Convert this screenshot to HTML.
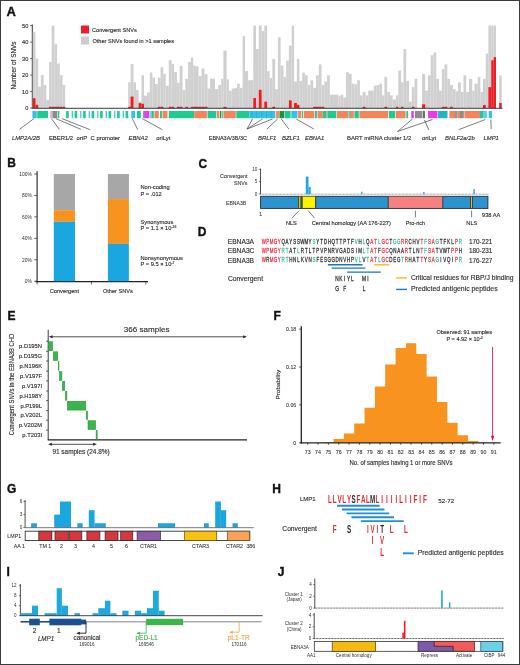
<!DOCTYPE html>
<html><head><meta charset="utf-8"><style>
html,body{margin:0;padding:0;background:#fff;}
body{width:520px;height:665px;overflow:hidden;position:relative;}
svg{position:absolute;left:0;top:0;font-family:"Liberation Sans",sans-serif;will-change:transform;}
.frame{position:absolute;left:0;top:0;width:518.5px;height:663.8px;border-left:1.1px solid #3d3d3d;border-top:1.1px solid #3d3d3d;border-bottom:1.2px solid #3d3d3d;border-right:1.5px solid #3d3d3d;box-sizing:border-box;width:520px;height:665px;}
</style></head><body>
<svg width="520" height="665" viewBox="0 0 520 665">
<text x="6.50" y="15.80" font-size="13" fill="#111" stroke="#111" stroke-width="0.35" font-weight="bold">A</text>
<rect x="81.00" y="25.50" width="8.00" height="8.00" fill="#ee1c25"/>
<text x="92.00" y="31.80" font-size="5.6" fill="#2e2e2e" stroke="#2e2e2e" stroke-width="0.14">Convergent SNVs</text>
<rect x="81.00" y="36.50" width="8.00" height="8.00" fill="#cccccc"/>
<text x="92.40" y="42.80" font-size="5.6" fill="#2e2e2e" stroke="#2e2e2e" stroke-width="0.14">Other SNVs found in &gt;1 samples</text>
<line x1="32.30" y1="24.50" x2="32.30" y2="108.50" stroke="#222" stroke-width="0.9"/>
<line x1="30.20" y1="108.10" x2="32.30" y2="108.10" stroke="#222" stroke-width="0.7"/>
<text x="28.30" y="110.20" font-size="5.6" fill="#2e2e2e" stroke="#2e2e2e" stroke-width="0.14" text-anchor="end">0</text>
<line x1="30.20" y1="91.60" x2="32.30" y2="91.60" stroke="#222" stroke-width="0.7"/>
<text x="28.30" y="93.70" font-size="5.6" fill="#2e2e2e" stroke="#2e2e2e" stroke-width="0.14" text-anchor="end">10</text>
<line x1="30.20" y1="75.10" x2="32.30" y2="75.10" stroke="#222" stroke-width="0.7"/>
<text x="28.30" y="77.20" font-size="5.6" fill="#2e2e2e" stroke="#2e2e2e" stroke-width="0.14" text-anchor="end">20</text>
<line x1="30.20" y1="58.60" x2="32.30" y2="58.60" stroke="#222" stroke-width="0.7"/>
<text x="28.30" y="60.70" font-size="5.6" fill="#2e2e2e" stroke="#2e2e2e" stroke-width="0.14" text-anchor="end">30</text>
<line x1="30.20" y1="42.10" x2="32.30" y2="42.10" stroke="#222" stroke-width="0.7"/>
<text x="28.30" y="44.20" font-size="5.6" fill="#2e2e2e" stroke="#2e2e2e" stroke-width="0.14" text-anchor="end">40</text>
<line x1="30.20" y1="25.60" x2="32.30" y2="25.60" stroke="#222" stroke-width="0.7"/>
<text x="28.30" y="27.70" font-size="5.6" fill="#2e2e2e" stroke="#2e2e2e" stroke-width="0.14" text-anchor="end">50</text>
<text x="16.00" y="65.50" font-size="6.4" fill="#2e2e2e" stroke="#2e2e2e" stroke-width="0.14" text-anchor="middle" transform="rotate(-90 16 65.5)">Number of SNVs</text>
<rect x="32.80" y="32.20" width="2.70" height="75.90" fill="#d0d0d0"/>
<rect x="35.50" y="58.60" width="2.70" height="49.50" fill="#d0d0d0"/>
<rect x="38.20" y="86.65" width="2.70" height="21.45" fill="#d0d0d0"/>
<rect x="40.90" y="75.10" width="2.70" height="33.00" fill="#d0d0d0"/>
<rect x="43.60" y="85.00" width="2.70" height="23.10" fill="#d0d0d0"/>
<rect x="46.30" y="99.85" width="2.70" height="8.25" fill="#d0d0d0"/>
<rect x="49.00" y="61.90" width="2.70" height="46.20" fill="#d0d0d0"/>
<rect x="51.70" y="25.60" width="2.70" height="82.50" fill="#d0d0d0"/>
<rect x="54.40" y="43.75" width="2.70" height="64.35" fill="#d0d0d0"/>
<rect x="57.10" y="63.55" width="2.70" height="44.55" fill="#d0d0d0"/>
<rect x="59.80" y="75.10" width="2.70" height="33.00" fill="#d0d0d0"/>
<rect x="62.50" y="85.00" width="2.70" height="23.10" fill="#d0d0d0"/>
<rect x="128.20" y="82.19" width="2.40" height="25.90" fill="#d0d0d0"/>
<rect x="130.60" y="64.04" width="2.90" height="44.05" fill="#d0d0d0"/>
<rect x="133.50" y="82.19" width="2.50" height="25.90" fill="#d0d0d0"/>
<rect x="136.00" y="90.11" width="2.60" height="17.98" fill="#d0d0d0"/>
<rect x="138.60" y="101.50" width="2.90" height="6.60" fill="#d0d0d0"/>
<rect x="141.50" y="75.27" width="2.50" height="32.83" fill="#d0d0d0"/>
<rect x="144.00" y="95.72" width="3.00" height="12.38" fill="#d0d0d0"/>
<rect x="147.00" y="92.42" width="2.80" height="15.67" fill="#d0d0d0"/>
<rect x="149.80" y="72.46" width="2.60" height="35.64" fill="#d0d0d0"/>
<rect x="152.40" y="77.57" width="2.60" height="30.52" fill="#d0d0d0"/>
<rect x="155.00" y="84.01" width="2.80" height="24.09" fill="#d0d0d0"/>
<rect x="157.80" y="77.57" width="2.80" height="30.52" fill="#d0d0d0"/>
<rect x="160.60" y="67.18" width="2.60" height="40.92" fill="#d0d0d0"/>
<rect x="163.20" y="73.78" width="2.50" height="34.32" fill="#d0d0d0"/>
<rect x="165.70" y="85.82" width="3.10" height="22.27" fill="#d0d0d0"/>
<rect x="168.80" y="60.25" width="2.80" height="47.85" fill="#d0d0d0"/>
<rect x="171.60" y="64.04" width="2.50" height="44.05" fill="#d0d0d0"/>
<rect x="174.10" y="71.97" width="2.80" height="36.13" fill="#d0d0d0"/>
<rect x="176.90" y="82.69" width="2.80" height="25.41" fill="#d0d0d0"/>
<rect x="179.70" y="65.86" width="2.80" height="42.24" fill="#d0d0d0"/>
<rect x="182.50" y="90.11" width="2.80" height="17.98" fill="#d0d0d0"/>
<rect x="185.30" y="78.89" width="2.80" height="29.20" fill="#d0d0d0"/>
<rect x="188.10" y="62.06" width="2.80" height="46.03" fill="#d0d0d0"/>
<rect x="190.90" y="57.45" width="2.30" height="50.65" fill="#d0d0d0"/>
<rect x="193.20" y="65.37" width="1.80" height="42.73" fill="#d0d0d0"/>
<rect x="195.00" y="66.35" width="3.50" height="41.74" fill="#d0d0d0"/>
<rect x="198.50" y="76.09" width="3.10" height="32.01" fill="#d0d0d0"/>
<rect x="201.60" y="68.50" width="2.80" height="39.60" fill="#d0d0d0"/>
<rect x="204.40" y="74.11" width="3.10" height="33.99" fill="#d0d0d0"/>
<rect x="207.50" y="88.47" width="2.50" height="19.63" fill="#d0d0d0"/>
<rect x="210.00" y="78.73" width="5.00" height="29.37" fill="#d0d0d0"/>
<rect x="215.00" y="89.12" width="3.30" height="18.97" fill="#d0d0d0"/>
<rect x="218.30" y="85.00" width="3.00" height="23.10" fill="#d0d0d0"/>
<rect x="221.30" y="78.73" width="2.10" height="29.37" fill="#d0d0d0"/>
<rect x="223.40" y="50.52" width="3.20" height="57.58" fill="#d0d0d0"/>
<rect x="226.60" y="79.39" width="2.30" height="28.71" fill="#d0d0d0"/>
<rect x="228.90" y="90.61" width="2.80" height="17.49" fill="#d0d0d0"/>
<rect x="231.70" y="88.47" width="3.30" height="19.63" fill="#d0d0d0"/>
<rect x="235.00" y="87.80" width="2.00" height="20.30" fill="#d0d0d0"/>
<rect x="237.00" y="83.68" width="2.80" height="24.42" fill="#d0d0d0"/>
<rect x="239.80" y="87.80" width="2.80" height="20.30" fill="#d0d0d0"/>
<rect x="242.60" y="35.83" width="2.40" height="72.27" fill="#d0d0d0"/>
<rect x="245.00" y="71.14" width="3.10" height="36.96" fill="#d0d0d0"/>
<rect x="248.10" y="80.22" width="5.20" height="27.88" fill="#d0d0d0"/>
<rect x="253.30" y="25.60" width="2.70" height="82.50" fill="#d0d0d0"/>
<rect x="256.00" y="49.03" width="2.80" height="59.07" fill="#d0d0d0"/>
<rect x="258.80" y="25.60" width="2.80" height="82.50" fill="#d0d0d0"/>
<rect x="261.60" y="31.04" width="2.70" height="77.06" fill="#d0d0d0"/>
<rect x="264.30" y="25.60" width="2.80" height="82.50" fill="#d0d0d0"/>
<rect x="267.10" y="71.14" width="2.50" height="36.96" fill="#d0d0d0"/>
<rect x="269.60" y="78.07" width="2.70" height="30.03" fill="#d0d0d0"/>
<rect x="272.30" y="58.93" width="2.80" height="49.17" fill="#d0d0d0"/>
<rect x="275.10" y="89.12" width="2.80" height="18.97" fill="#d0d0d0"/>
<rect x="277.90" y="37.31" width="2.70" height="70.78" fill="#d0d0d0"/>
<rect x="280.60" y="65.53" width="2.80" height="42.57" fill="#d0d0d0"/>
<rect x="283.40" y="76.91" width="2.80" height="31.18" fill="#d0d0d0"/>
<rect x="286.20" y="60.58" width="2.70" height="47.52" fill="#d0d0d0"/>
<rect x="288.90" y="45.56" width="2.80" height="62.53" fill="#d0d0d0"/>
<rect x="291.70" y="25.60" width="2.40" height="82.50" fill="#d0d0d0"/>
<rect x="294.10" y="81.53" width="2.80" height="26.57" fill="#d0d0d0"/>
<rect x="296.90" y="58.93" width="2.50" height="49.17" fill="#d0d0d0"/>
<rect x="299.40" y="80.88" width="2.80" height="27.22" fill="#d0d0d0"/>
<rect x="302.20" y="72.62" width="2.70" height="35.48" fill="#d0d0d0"/>
<rect x="304.90" y="75.27" width="2.80" height="32.83" fill="#d0d0d0"/>
<rect x="307.70" y="85.00" width="2.80" height="23.10" fill="#d0d0d0"/>
<rect x="310.50" y="80.22" width="2.70" height="27.88" fill="#d0d0d0"/>
<rect x="313.20" y="87.80" width="2.80" height="20.30" fill="#d0d0d0"/>
<rect x="316.00" y="75.27" width="2.80" height="32.83" fill="#d0d0d0"/>
<rect x="318.80" y="64.38" width="2.70" height="43.72" fill="#d0d0d0"/>
<rect x="321.50" y="85.00" width="2.80" height="23.10" fill="#d0d0d0"/>
<rect x="324.30" y="81.53" width="2.80" height="26.57" fill="#d0d0d0"/>
<rect x="327.10" y="75.27" width="2.70" height="32.83" fill="#d0d0d0"/>
<rect x="329.80" y="94.73" width="8.60" height="13.36" fill="#d0d0d0"/>
<rect x="338.40" y="96.05" width="2.10" height="12.04" fill="#d0d0d0"/>
<rect x="340.50" y="94.73" width="2.80" height="13.36" fill="#d0d0d0"/>
<rect x="343.30" y="97.54" width="2.70" height="10.56" fill="#d0d0d0"/>
<rect x="346.00" y="72.29" width="2.90" height="35.80" fill="#d0d0d0"/>
<rect x="348.90" y="73.94" width="2.70" height="34.15" fill="#d0d0d0"/>
<rect x="351.60" y="83.68" width="2.80" height="24.42" fill="#d0d0d0"/>
<rect x="354.40" y="84.34" width="2.80" height="23.76" fill="#d0d0d0"/>
<rect x="357.20" y="80.22" width="2.70" height="27.88" fill="#d0d0d0"/>
<rect x="359.90" y="95.39" width="2.80" height="12.71" fill="#d0d0d0"/>
<rect x="362.70" y="91.93" width="2.80" height="16.17" fill="#d0d0d0"/>
<rect x="365.50" y="95.39" width="2.70" height="12.71" fill="#d0d0d0"/>
<rect x="368.20" y="90.61" width="2.80" height="17.49" fill="#d0d0d0"/>
<rect x="371.00" y="90.61" width="2.80" height="17.49" fill="#d0d0d0"/>
<rect x="373.80" y="85.66" width="2.70" height="22.44" fill="#d0d0d0"/>
<rect x="376.50" y="85.00" width="2.80" height="23.10" fill="#d0d0d0"/>
<rect x="379.30" y="83.68" width="2.80" height="24.42" fill="#d0d0d0"/>
<rect x="382.10" y="95.39" width="2.30" height="12.71" fill="#d0d0d0"/>
<rect x="384.40" y="76.91" width="2.80" height="31.18" fill="#d0d0d0"/>
<rect x="387.20" y="91.93" width="2.80" height="16.17" fill="#d0d0d0"/>
<rect x="390.00" y="95.39" width="2.70" height="12.71" fill="#d0d0d0"/>
<rect x="392.70" y="99.52" width="3.20" height="8.58" fill="#d0d0d0"/>
<rect x="395.90" y="95.39" width="2.40" height="12.71" fill="#d0d0d0"/>
<rect x="398.30" y="70.48" width="2.80" height="37.62" fill="#d0d0d0"/>
<rect x="401.10" y="82.36" width="2.40" height="25.74" fill="#d0d0d0"/>
<rect x="403.50" y="49.03" width="2.70" height="59.07" fill="#d0d0d0"/>
<rect x="406.20" y="80.88" width="2.80" height="27.22" fill="#d0d0d0"/>
<rect x="409.00" y="101.66" width="2.80" height="6.43" fill="#d0d0d0"/>
<rect x="411.80" y="87.14" width="2.70" height="20.95" fill="#d0d0d0"/>
<rect x="414.50" y="78.89" width="2.80" height="29.20" fill="#d0d0d0"/>
<rect x="422.10" y="73.94" width="3.10" height="34.15" fill="#d0d0d0"/>
<rect x="425.20" y="90.61" width="2.70" height="17.49" fill="#d0d0d0"/>
<rect x="427.90" y="75.27" width="2.80" height="32.83" fill="#d0d0d0"/>
<rect x="430.70" y="55.30" width="2.80" height="52.80" fill="#d0d0d0"/>
<rect x="433.50" y="52.49" width="2.70" height="55.61" fill="#d0d0d0"/>
<rect x="436.20" y="78.89" width="2.80" height="29.20" fill="#d0d0d0"/>
<rect x="439.00" y="90.61" width="2.80" height="17.49" fill="#d0d0d0"/>
<rect x="441.80" y="69.16" width="2.70" height="38.94" fill="#d0d0d0"/>
<rect x="444.50" y="64.38" width="2.80" height="43.72" fill="#d0d0d0"/>
<rect x="447.30" y="78.89" width="2.80" height="29.20" fill="#d0d0d0"/>
<rect x="450.10" y="85.00" width="2.70" height="23.10" fill="#d0d0d0"/>
<rect x="452.80" y="89.12" width="2.80" height="18.97" fill="#d0d0d0"/>
<rect x="455.60" y="91.27" width="2.40" height="16.83" fill="#d0d0d0"/>
<rect x="458.00" y="82.36" width="2.80" height="25.74" fill="#d0d0d0"/>
<rect x="460.80" y="91.93" width="2.70" height="16.17" fill="#d0d0d0"/>
<rect x="463.50" y="75.43" width="2.70" height="32.67" fill="#d0d0d0"/>
<rect x="466.20" y="91.93" width="2.80" height="16.17" fill="#d0d0d0"/>
<rect x="469.00" y="78.89" width="3.20" height="29.20" fill="#d0d0d0"/>
<rect x="472.20" y="90.61" width="2.30" height="17.49" fill="#d0d0d0"/>
<rect x="474.50" y="83.68" width="3.30" height="24.42" fill="#d0d0d0"/>
<rect x="477.80" y="76.91" width="2.50" height="31.18" fill="#d0d0d0"/>
<rect x="480.30" y="91.93" width="2.70" height="16.17" fill="#d0d0d0"/>
<rect x="483.00" y="78.89" width="2.80" height="29.20" fill="#d0d0d0"/>
<rect x="485.80" y="53.65" width="2.60" height="54.45" fill="#d0d0d0"/>
<rect x="488.40" y="25.60" width="2.90" height="82.50" fill="#d0d0d0"/>
<rect x="491.30" y="25.60" width="2.40" height="82.50" fill="#d0d0d0"/>
<rect x="493.70" y="25.60" width="2.30" height="82.50" fill="#d0d0d0"/>
<rect x="499.20" y="75.43" width="2.50" height="32.67" fill="#d0d0d0"/>
<rect x="32.80" y="98.20" width="2.70" height="9.90" fill="#ee1c25"/>
<rect x="35.50" y="104.80" width="2.70" height="3.30" fill="#ee1c25"/>
<rect x="49.00" y="106.78" width="2.70" height="1.32" fill="#c8283a"/>
<rect x="51.70" y="106.78" width="2.70" height="1.32" fill="#c8283a"/>
<rect x="54.40" y="106.78" width="2.70" height="1.32" fill="#c8283a"/>
<rect x="57.10" y="106.78" width="2.70" height="1.32" fill="#c8283a"/>
<rect x="59.80" y="106.78" width="2.70" height="1.32" fill="#c8283a"/>
<rect x="62.50" y="106.78" width="2.70" height="1.32" fill="#c8283a"/>
<rect x="128.20" y="106.78" width="2.40" height="1.32" fill="#c8283a"/>
<rect x="130.60" y="96.55" width="2.90" height="11.55" fill="#ee1c25"/>
<rect x="138.60" y="103.15" width="2.90" height="4.95" fill="#ee1c25"/>
<rect x="141.50" y="103.81" width="2.50" height="4.29" fill="#ee1c25"/>
<rect x="157.80" y="106.78" width="2.80" height="1.32" fill="#c8283a"/>
<rect x="160.60" y="106.78" width="2.60" height="1.32" fill="#c8283a"/>
<rect x="168.80" y="106.78" width="2.80" height="1.32" fill="#c8283a"/>
<rect x="171.60" y="106.78" width="2.50" height="1.32" fill="#c8283a"/>
<rect x="176.90" y="106.78" width="2.80" height="1.32" fill="#c8283a"/>
<rect x="179.70" y="106.78" width="2.80" height="1.32" fill="#c8283a"/>
<rect x="185.30" y="106.78" width="2.80" height="1.32" fill="#c8283a"/>
<rect x="190.90" y="106.78" width="2.30" height="1.32" fill="#c8283a"/>
<rect x="193.20" y="106.78" width="1.80" height="1.32" fill="#c8283a"/>
<rect x="195.00" y="106.78" width="3.50" height="1.32" fill="#c8283a"/>
<rect x="198.50" y="106.78" width="3.10" height="1.32" fill="#c8283a"/>
<rect x="201.60" y="106.78" width="2.80" height="1.32" fill="#c8283a"/>
<rect x="204.40" y="106.78" width="3.10" height="1.32" fill="#c8283a"/>
<rect x="223.40" y="106.78" width="3.20" height="1.32" fill="#c8283a"/>
<rect x="253.30" y="98.03" width="2.70" height="10.06" fill="#ee1c25"/>
<rect x="258.80" y="89.78" width="2.80" height="18.31" fill="#ee1c25"/>
<rect x="264.30" y="101.66" width="2.80" height="6.43" fill="#ee1c25"/>
<rect x="272.30" y="106.78" width="2.80" height="1.32" fill="#c8283a"/>
<rect x="288.90" y="100.34" width="2.80" height="7.75" fill="#ee1c25"/>
<rect x="294.10" y="102.98" width="2.80" height="5.12" fill="#ee1c25"/>
<rect x="296.90" y="104.80" width="2.50" height="3.30" fill="#ee1c25"/>
<rect x="313.20" y="106.78" width="2.80" height="1.32" fill="#c8283a"/>
<rect x="316.00" y="106.78" width="2.80" height="1.32" fill="#c8283a"/>
<rect x="318.80" y="106.78" width="2.70" height="1.32" fill="#c8283a"/>
<rect x="321.50" y="106.78" width="2.80" height="1.32" fill="#c8283a"/>
<rect x="362.70" y="106.78" width="2.80" height="1.32" fill="#c8283a"/>
<rect x="384.40" y="106.78" width="2.80" height="1.32" fill="#c8283a"/>
<rect x="395.90" y="106.78" width="2.40" height="1.32" fill="#c8283a"/>
<rect x="401.10" y="106.78" width="2.40" height="1.32" fill="#c8283a"/>
<rect x="411.80" y="106.78" width="2.70" height="1.32" fill="#c8283a"/>
<rect x="422.10" y="104.30" width="3.10" height="3.79" fill="#ee1c25"/>
<rect x="441.80" y="106.78" width="2.70" height="1.32" fill="#c8283a"/>
<rect x="444.50" y="106.78" width="2.80" height="1.32" fill="#c8283a"/>
<rect x="450.10" y="106.78" width="2.70" height="1.32" fill="#c8283a"/>
<rect x="483.00" y="104.96" width="2.80" height="3.13" fill="#ee1c25"/>
<rect x="488.40" y="87.14" width="2.90" height="20.95" fill="#ee1c25"/>
<rect x="491.30" y="60.25" width="2.40" height="47.85" fill="#ee1c25"/>
<rect x="493.70" y="57.12" width="2.30" height="50.98" fill="#ee1c25"/>
<rect x="499.20" y="102.98" width="2.50" height="5.12" fill="#ee1c25"/>
<line x1="32.30" y1="108.30" x2="502.50" y2="108.30" stroke="#222" stroke-width="0.9"/>
<rect x="32.40" y="111.00" width="3.60" height="7.20" fill="#33c3e6"/>
<rect x="36.00" y="111.00" width="1.40" height="7.20" fill="#5fd6d0"/>
<rect x="37.40" y="111.00" width="10.60" height="7.20" fill="#1dcb92"/>
<rect x="49.90" y="111.00" width="2.50" height="7.20" fill="#c8c8c8"/>
<rect x="52.40" y="111.00" width="5.00" height="7.20" fill="#8c8c8c"/>
<rect x="58.00" y="111.00" width="1.30" height="7.20" fill="#1dcb92"/>
<rect x="66.10" y="111.00" width="2.60" height="7.20" fill="#1dcb92"/>
<rect x="71.70" y="111.00" width="1.20" height="7.20" fill="#33c3e6"/>
<rect x="74.60" y="111.00" width="2.60" height="7.20" fill="#1dcb92"/>
<rect x="80.20" y="111.00" width="1.20" height="7.20" fill="#33c3e6"/>
<rect x="83.10" y="111.00" width="2.60" height="7.20" fill="#1dcb92"/>
<rect x="88.70" y="111.00" width="1.20" height="7.20" fill="#33c3e6"/>
<rect x="91.60" y="111.00" width="2.60" height="7.20" fill="#1dcb92"/>
<rect x="97.20" y="111.00" width="1.20" height="7.20" fill="#33c3e6"/>
<rect x="100.10" y="111.00" width="2.60" height="7.20" fill="#1dcb92"/>
<rect x="105.70" y="111.00" width="1.20" height="7.20" fill="#33c3e6"/>
<rect x="108.60" y="111.00" width="2.60" height="7.20" fill="#1dcb92"/>
<rect x="114.20" y="111.00" width="1.20" height="7.20" fill="#33c3e6"/>
<rect x="117.10" y="111.00" width="2.60" height="7.20" fill="#1dcb92"/>
<rect x="122.70" y="111.00" width="1.20" height="7.20" fill="#33c3e6"/>
<rect x="125.60" y="111.00" width="2.60" height="7.20" fill="#1dcb92"/>
<rect x="131.30" y="111.00" width="3.70" height="7.20" fill="#33c3e6"/>
<rect x="136.90" y="111.00" width="3.90" height="7.20" fill="#1dcb92"/>
<rect x="143.10" y="111.00" width="1.90" height="7.20" fill="#a46fd6"/>
<rect x="145.00" y="111.00" width="4.40" height="7.20" fill="#ec3ae8"/>
<rect x="150.00" y="111.00" width="0.70" height="7.20" fill="#33c3e6"/>
<rect x="151.30" y="111.00" width="2.50" height="7.20" fill="#1dcb92"/>
<rect x="154.40" y="111.00" width="4.40" height="7.20" fill="#f5845b"/>
<rect x="160.00" y="111.00" width="1.90" height="7.20" fill="#1dcb92"/>
<rect x="162.50" y="111.00" width="5.00" height="7.20" fill="#f5845b"/>
<rect x="168.80" y="111.00" width="25.50" height="7.20" fill="#1dcb92"/>
<rect x="194.30" y="111.00" width="12.60" height="7.20" fill="#f5845b"/>
<rect x="207.50" y="111.00" width="8.80" height="7.20" fill="#1dcb92"/>
<rect x="216.90" y="111.00" width="2.50" height="7.20" fill="#f5845b"/>
<rect x="220.00" y="111.00" width="1.30" height="7.20" fill="#17963a"/>
<rect x="221.80" y="111.00" width="1.00" height="7.20" fill="#1dcb92"/>
<rect x="223.40" y="111.00" width="12.40" height="7.20" fill="#f5845b"/>
<rect x="236.30" y="111.00" width="13.10" height="7.20" fill="#1dcb92"/>
<rect x="249.40" y="111.00" width="25.60" height="7.20" fill="#33c3e6"/>
<rect x="275.60" y="111.00" width="4.40" height="7.20" fill="#d99a78"/>
<rect x="280.00" y="111.00" width="4.40" height="7.20" fill="#17963a"/>
<rect x="285.00" y="111.00" width="5.60" height="7.20" fill="#1dcb92"/>
<rect x="291.30" y="111.00" width="6.20" height="7.20" fill="#33c3e6"/>
<rect x="298.10" y="111.00" width="3.20" height="7.20" fill="#f5845b"/>
<rect x="301.90" y="111.00" width="1.20" height="7.20" fill="#1dcb92"/>
<rect x="303.80" y="111.00" width="10.60" height="7.20" fill="#f5845b"/>
<rect x="315.00" y="111.00" width="1.90" height="7.20" fill="#1dcb92"/>
<rect x="317.50" y="111.00" width="5.10" height="7.20" fill="#f5845b"/>
<rect x="322.60" y="111.00" width="3.70" height="7.20" fill="#1dcb92"/>
<rect x="326.30" y="111.00" width="1.20" height="7.20" fill="#f5845b"/>
<rect x="327.50" y="111.00" width="8.80" height="7.20" fill="#1dcb92"/>
<rect x="336.90" y="111.00" width="11.20" height="7.20" fill="#f5845b"/>
<rect x="348.50" y="111.00" width="1.30" height="7.20" fill="#1dcb92"/>
<rect x="350.00" y="111.00" width="3.80" height="7.20" fill="#f5845b"/>
<rect x="354.40" y="111.00" width="4.40" height="7.20" fill="#1dcb92"/>
<rect x="359.40" y="111.00" width="28.70" height="7.20" fill="#f5845b"/>
<rect x="388.80" y="111.00" width="6.20" height="7.20" fill="#1dcb92"/>
<rect x="395.60" y="111.00" width="10.00" height="7.20" fill="#f5845b"/>
<rect x="406.30" y="111.00" width="1.80" height="7.20" fill="#1dcb92"/>
<rect x="411.30" y="111.00" width="2.50" height="7.20" fill="#ec3ae8"/>
<rect x="415.00" y="111.00" width="7.50" height="7.20" fill="#8c8c8c"/>
<rect x="423.00" y="111.00" width="2.00" height="7.20" fill="#6a6a6a"/>
<rect x="428.10" y="111.00" width="9.40" height="7.20" fill="#ec3ae8"/>
<rect x="438.10" y="111.00" width="9.40" height="7.20" fill="#22b5c0"/>
<rect x="449.40" y="111.00" width="5.60" height="7.20" fill="#f5845b"/>
<rect x="455.00" y="111.00" width="2.50" height="7.20" fill="#7f9aa8"/>
<rect x="457.50" y="111.00" width="2.50" height="7.20" fill="#f5845b"/>
<rect x="460.00" y="111.00" width="3.80" height="7.20" fill="#8c8c8c"/>
<rect x="464.40" y="111.00" width="15.60" height="7.20" fill="#f5845b"/>
<rect x="480.00" y="111.00" width="3.10" height="7.20" fill="#1dcb92"/>
<rect x="483.10" y="111.00" width="3.80" height="7.20" fill="#55d0e8"/>
<rect x="488.80" y="111.00" width="3.10" height="7.20" fill="#33c3e6"/>
<rect x="251.50" y="111.00" width="0.70" height="7.20" fill="#2aa6d6"/>
<rect x="256.30" y="111.00" width="0.70" height="7.20" fill="#2aa6d6"/>
<rect x="261.20" y="111.00" width="0.70" height="7.20" fill="#2aa6d6"/>
<rect x="266.00" y="111.00" width="0.70" height="7.20" fill="#2aa6d6"/>
<rect x="270.80" y="111.00" width="0.70" height="7.20" fill="#2aa6d6"/>
<line x1="33.90" y1="118.60" x2="19.50" y2="129.30" stroke="#444" stroke-width="0.7"/>
<line x1="51.50" y1="118.60" x2="59.30" y2="129.30" stroke="#444" stroke-width="0.7"/>
<line x1="55.80" y1="118.60" x2="80.90" y2="129.30" stroke="#444" stroke-width="0.7"/>
<line x1="61.90" y1="118.60" x2="90.40" y2="129.80" stroke="#444" stroke-width="0.7"/>
<line x1="132.30" y1="118.60" x2="137.70" y2="129.70" stroke="#444" stroke-width="0.7"/>
<line x1="142.30" y1="118.60" x2="162.30" y2="129.70" stroke="#444" stroke-width="0.7"/>
<line x1="252.50" y1="119.00" x2="247.00" y2="129.00" stroke="#444" stroke-width="0.7"/>
<line x1="262.50" y1="119.00" x2="247.00" y2="129.00" stroke="#444" stroke-width="0.7"/>
<line x1="272.50" y1="119.00" x2="247.00" y2="129.00" stroke="#444" stroke-width="0.7"/>
<line x1="277.50" y1="119.00" x2="267.00" y2="129.00" stroke="#444" stroke-width="0.7"/>
<line x1="281.30" y1="119.00" x2="288.80" y2="129.00" stroke="#444" stroke-width="0.7"/>
<line x1="296.30" y1="119.00" x2="313.80" y2="129.00" stroke="#444" stroke-width="0.7"/>
<line x1="412.50" y1="119.00" x2="397.50" y2="131.50" stroke="#444" stroke-width="0.7"/>
<line x1="432.50" y1="119.50" x2="397.50" y2="131.50" stroke="#444" stroke-width="0.7"/>
<line x1="424.50" y1="120.00" x2="428.80" y2="130.00" stroke="#444" stroke-width="0.7"/>
<line x1="485.40" y1="119.50" x2="458.50" y2="129.70" stroke="#444" stroke-width="0.7"/>
<line x1="490.80" y1="119.50" x2="491.20" y2="129.00" stroke="#444" stroke-width="0.7"/>
<text x="11.90" y="140.00" font-size="5.9" fill="#2e2e2e" stroke="#2e2e2e" stroke-width="0.14" font-style="italic">LMP2A/2B</text>
<text x="48.90" y="140.00" font-size="5.9" fill="#2e2e2e" stroke="#2e2e2e" stroke-width="0.14">EBER1/2</text>
<text x="76.60" y="140.00" font-size="5.9" fill="#2e2e2e" stroke="#2e2e2e" stroke-width="0.14">oriP</text>
<text x="90.60" y="140.00" font-size="5.9" fill="#2e2e2e" stroke="#2e2e2e" stroke-width="0.14">C promoter</text>
<text x="128.50" y="140.00" font-size="5.9" fill="#2e2e2e" stroke="#2e2e2e" stroke-width="0.14" font-style="italic">EBNA2</text>
<text x="156.20" y="140.00" font-size="5.9" fill="#2e2e2e" stroke="#2e2e2e" stroke-width="0.14">oriLyt</text>
<text x="208.80" y="140.00" font-size="5.45" fill="#2e2e2e" stroke="#2e2e2e" stroke-width="0.14">EBNA3A/3B/3C</text>
<text x="258.00" y="140.00" font-size="5.9" fill="#2e2e2e" stroke="#2e2e2e" stroke-width="0.14" font-style="italic">BRLF1</text>
<text x="282.00" y="140.00" font-size="5.9" fill="#2e2e2e" stroke="#2e2e2e" stroke-width="0.14" font-style="italic">BZLF1</text>
<text x="305.00" y="140.00" font-size="5.9" fill="#2e2e2e" stroke="#2e2e2e" stroke-width="0.14" font-style="italic">EBNA1</text>
<text x="347.00" y="140.00" font-size="5.9" fill="#2e2e2e" stroke="#2e2e2e" stroke-width="0.14">BART miRNA cluster 1/2</text>
<text x="422.00" y="140.00" font-size="5.9" fill="#2e2e2e" stroke="#2e2e2e" stroke-width="0.14">oriLyt</text>
<text x="445.00" y="140.00" font-size="5.9" fill="#2e2e2e" stroke="#2e2e2e" stroke-width="0.14" font-style="italic">BNLF2a/2b</text>
<text x="483.50" y="140.00" font-size="5.9" fill="#2e2e2e" stroke="#2e2e2e" stroke-width="0.14" font-style="italic">LMP1</text>
<text x="7.30" y="167.40" font-size="12" fill="#111" stroke="#111" stroke-width="0.35" font-weight="bold">B</text>
<line x1="37.10" y1="171.20" x2="37.10" y2="282.20" stroke="#222" stroke-width="1.1"/>
<line x1="34.20" y1="281.20" x2="37.10" y2="281.20" stroke="#222" stroke-width="0.7"/>
<text x="31.80" y="282.95" font-size="4.9" fill="#2e2e2e" text-anchor="end">0%</text>
<line x1="34.20" y1="259.76" x2="37.10" y2="259.76" stroke="#222" stroke-width="0.7"/>
<text x="31.80" y="261.51" font-size="4.9" fill="#2e2e2e" text-anchor="end">20%</text>
<line x1="34.20" y1="238.32" x2="37.10" y2="238.32" stroke="#222" stroke-width="0.7"/>
<text x="31.80" y="240.07" font-size="4.9" fill="#2e2e2e" text-anchor="end">40%</text>
<line x1="34.20" y1="216.88" x2="37.10" y2="216.88" stroke="#222" stroke-width="0.7"/>
<text x="31.80" y="218.63" font-size="4.9" fill="#2e2e2e" text-anchor="end">60%</text>
<line x1="34.20" y1="195.44" x2="37.10" y2="195.44" stroke="#222" stroke-width="0.7"/>
<text x="31.80" y="197.19" font-size="4.9" fill="#2e2e2e" text-anchor="end">80%</text>
<line x1="34.20" y1="174.00" x2="37.10" y2="174.00" stroke="#222" stroke-width="0.7"/>
<text x="31.80" y="175.75" font-size="4.9" fill="#2e2e2e" text-anchor="end">100%</text>
<line x1="35.60" y1="281.60" x2="148.00" y2="281.60" stroke="#222" stroke-width="1.2"/>
<line x1="37.10" y1="281.60" x2="37.10" y2="284.40" stroke="#222" stroke-width="0.7"/>
<line x1="91.40" y1="281.60" x2="91.40" y2="284.40" stroke="#222" stroke-width="0.7"/>
<line x1="145.80" y1="281.60" x2="145.80" y2="284.40" stroke="#222" stroke-width="0.7"/>
<rect x="53.80" y="174.00" width="21.20" height="36.20" fill="#a7a7a7"/>
<rect x="53.80" y="210.20" width="21.20" height="11.60" fill="#f7931e"/>
<rect x="53.80" y="221.80" width="21.20" height="59.40" fill="#1aa7df"/>
<rect x="107.90" y="174.00" width="21.00" height="25.10" fill="#a7a7a7"/>
<rect x="107.90" y="199.10" width="21.00" height="44.80" fill="#f7931e"/>
<rect x="107.90" y="243.90" width="21.00" height="37.30" fill="#1aa7df"/>
<text x="64.40" y="292.60" font-size="5.7" fill="#2e2e2e" stroke="#2e2e2e" stroke-width="0.14" text-anchor="middle">Convergent</text>
<text x="117.90" y="292.60" font-size="5.6" fill="#2e2e2e" stroke="#2e2e2e" stroke-width="0.14" text-anchor="middle">Other SNVs</text>
<text x="140.50" y="189.30" font-size="5.7" fill="#2e2e2e" stroke="#2e2e2e" stroke-width="0.14">Non-coding</text>
<text x="140.50" y="195.70" font-size="5.7" fill="#2e2e2e" stroke="#2e2e2e" stroke-width="0.14">P = .012</text>
<text x="140.50" y="223.70" font-size="5.7" fill="#2e2e2e" stroke="#2e2e2e" stroke-width="0.14">Synonymous</text>
<text x="140.50" y="230.30" font-size="5.7" fill="#2e2e2e" stroke="#2e2e2e" stroke-width="0.14">P = 1.1 × 10<tspan font-size="3.4" dy="-2">-16</tspan></text>
<text x="140.50" y="259.50" font-size="5.7" fill="#2e2e2e" stroke="#2e2e2e" stroke-width="0.14">Nonsynonymous</text>
<text x="140.50" y="266.10" font-size="5.7" fill="#2e2e2e" stroke="#2e2e2e" stroke-width="0.14">P = 9.5 × 10<tspan font-size="3.4" dy="-2">-7</tspan></text>
<text x="198.60" y="167.60" font-size="12" fill="#111" stroke="#111" stroke-width="0.35" font-weight="bold">C</text>
<text x="247.50" y="178.20" font-size="5.3" fill="#2e2e2e" stroke="#2e2e2e" stroke-width="0.07" text-anchor="end">Convergent</text>
<text x="247.50" y="184.80" font-size="5.3" fill="#2e2e2e" stroke="#2e2e2e" stroke-width="0.07" text-anchor="end">SNVs</text>
<line x1="260.50" y1="168.60" x2="260.50" y2="194.30" stroke="#222" stroke-width="0.8"/>
<line x1="258.80" y1="169.30" x2="260.50" y2="169.30" stroke="#222" stroke-width="0.6"/>
<text x="257.30" y="171.00" font-size="4.6" fill="#2e2e2e" text-anchor="end">10</text>
<line x1="258.80" y1="181.60" x2="260.50" y2="181.60" stroke="#222" stroke-width="0.6"/>
<text x="257.30" y="183.30" font-size="4.6" fill="#2e2e2e" text-anchor="end">5</text>
<line x1="258.80" y1="193.90" x2="260.50" y2="193.90" stroke="#222" stroke-width="0.6"/>
<text x="257.30" y="195.60" font-size="4.6" fill="#2e2e2e" text-anchor="end">0</text>
<line x1="260.50" y1="194.20" x2="489.00" y2="194.20" stroke="#555" stroke-width="0.7" stroke-dasharray="0.8 0.6"/>
<rect x="305.80" y="176.60" width="2.70" height="17.60" fill="#1ea8df"/>
<rect x="308.50" y="186.90" width="2.20" height="7.30" fill="#1ea8df"/>
<rect x="361.20" y="191.70" width="1.30" height="2.50" fill="#1ea8df"/>
<rect x="423.20" y="191.90" width="1.30" height="2.30" fill="#1ea8df"/>
<rect x="473.40" y="189.00" width="1.40" height="5.20" fill="#1ea8df"/>
<rect x="260.60" y="196.30" width="227.30" height="12.10" fill="#2a93d0" stroke="#2b2b2b" stroke-width="0.9"/>
<rect x="298.00" y="196.70" width="1.00" height="11.20" fill="#2f5a2a"/>
<rect x="299.00" y="196.70" width="1.50" height="11.20" fill="#f2b90f"/>
<rect x="300.50" y="196.70" width="1.30" height="11.20" fill="#2f5a2a"/>
<rect x="302.20" y="196.70" width="13.20" height="11.20" fill="#fff200"/>
<rect x="301.80" y="196.70" width="0.80" height="11.20" fill="#333"/>
<rect x="315.20" y="196.70" width="1.00" height="11.20" fill="#333"/>
<rect x="388.20" y="196.70" width="54.50" height="11.20" fill="#f6817e"/>
<line x1="388.20" y1="196.70" x2="388.20" y2="208.00" stroke="#333" stroke-width="0.9"/>
<line x1="442.80" y1="196.70" x2="442.80" y2="208.00" stroke="#333" stroke-width="0.9"/>
<rect x="470.20" y="196.70" width="0.80" height="11.20" fill="#333"/>
<rect x="471.00" y="196.70" width="1.00" height="11.20" fill="#f2b90f"/>
<rect x="472.00" y="196.70" width="0.80" height="11.20" fill="#333"/>
<text x="246.20" y="205.00" font-size="5.1" fill="#2e2e2e" stroke="#2e2e2e" stroke-width="0.07" text-anchor="end">EBNA3B</text>
<text x="260.60" y="215.50" font-size="5.2" fill="#2e2e2e" stroke="#2e2e2e" stroke-width="0.07" text-anchor="middle">1</text>
<text x="482.00" y="216.60" font-size="5.7" fill="#2e2e2e" stroke="#2e2e2e" stroke-width="0.14">938 AA</text>
<line x1="299.20" y1="210.60" x2="291.80" y2="218.20" stroke="#444" stroke-width="0.7"/>
<line x1="308.20" y1="210.60" x2="314.60" y2="218.20" stroke="#444" stroke-width="0.7"/>
<line x1="415.40" y1="210.60" x2="415.40" y2="217.40" stroke="#444" stroke-width="0.7"/>
<line x1="471.60" y1="210.60" x2="471.60" y2="217.40" stroke="#444" stroke-width="0.7"/>
<text x="291.40" y="224.60" font-size="5.6" fill="#2e2e2e" stroke="#2e2e2e" stroke-width="0.14" text-anchor="middle">NLS</text>
<text x="311.80" y="224.60" font-size="5.65" fill="#2e2e2e" stroke="#2e2e2e" stroke-width="0.14">Central homology (AA 176-227)</text>
<text x="415.40" y="224.60" font-size="5.5" fill="#2e2e2e" stroke="#2e2e2e" stroke-width="0.14" text-anchor="middle">Pro-rich</text>
<text x="471.80" y="224.60" font-size="5.6" fill="#2e2e2e" stroke="#2e2e2e" stroke-width="0.14" text-anchor="middle">NLS</text>
<text x="197.80" y="235.90" font-size="12" fill="#111" stroke="#111" stroke-width="0.35" font-weight="bold">D</text>
<text x="227.70" y="243.90" font-size="6.7" fill="#2e2e2e" stroke="#2e2e2e" stroke-width="0.14">EBNA3A</text>
<text x="227.70" y="253.30" font-size="6.7" fill="#2e2e2e" stroke="#2e2e2e" stroke-width="0.14">EBNA3C</text>
<text x="227.70" y="262.60" font-size="6.7" fill="#2e2e2e" stroke="#2e2e2e" stroke-width="0.14">EBNA3B</text>
<text transform="scale(0.64,1)" y="243.8" font-size="6.95" stroke-width="0.28" text-anchor="middle"><tspan x="412.34" fill="#e9303e" stroke="#e9303e">W</tspan><tspan x="418.36" fill="#e9303e" stroke="#e9303e">P</tspan><tspan x="424.37" fill="#e9303e" stroke="#e9303e">M</tspan><tspan x="430.39" fill="#e9303e" stroke="#e9303e">G</tspan><tspan x="436.41" fill="#e9303e" stroke="#e9303e">Y</tspan><tspan x="442.42" fill="#2a2a2a" stroke="#2a2a2a">Q</tspan><tspan x="448.44" fill="#2a2a2a" stroke="#2a2a2a">A</tspan><tspan x="454.45" fill="#2a2a2a" stroke="#2a2a2a">Y</tspan><tspan x="460.47" fill="#2a2a2a" stroke="#2a2a2a">S</tspan><tspan x="466.48" fill="#2a2a2a" stroke="#2a2a2a">S</tspan><tspan x="472.50" fill="#2a2a2a" stroke="#2a2a2a">W</tspan><tspan x="478.52" fill="#2a2a2a" stroke="#2a2a2a">M</tspan><tspan x="484.53" fill="#2a2a2a" stroke="#2a2a2a">Y</tspan><tspan x="490.55" fill="#2fbf9c" stroke="#2fbf9c">S</tspan><tspan x="496.56" fill="#2a2a2a" stroke="#2a2a2a">Y</tspan><tspan x="502.58" fill="#2a2a2a" stroke="#2a2a2a">T</tspan><tspan x="508.59" fill="#2a2a2a" stroke="#2a2a2a">D</tspan><tspan x="514.61" fill="#2a2a2a" stroke="#2a2a2a">H</tspan><tspan x="520.62" fill="#2a2a2a" stroke="#2a2a2a">Q</tspan><tspan x="526.64" fill="#2a2a2a" stroke="#2a2a2a">T</tspan><tspan x="532.66" fill="#2a2a2a" stroke="#2a2a2a">T</tspan><tspan x="538.67" fill="#2a2a2a" stroke="#2a2a2a">P</tspan><tspan x="544.69" fill="#2a2a2a" stroke="#2a2a2a">T</tspan><tspan x="550.70" fill="#2a2a2a" stroke="#2a2a2a">F</tspan><tspan x="556.72" fill="#2fbf9c" stroke="#2fbf9c">V</tspan><tspan x="562.73" fill="#2a2a2a" stroke="#2a2a2a">H</tspan><tspan x="568.75" fill="#2fbf9c" stroke="#2fbf9c">L</tspan><tspan x="574.77" fill="#2a2a2a" stroke="#2a2a2a">Q</tspan><tspan x="580.78" fill="#e9303e" stroke="#e9303e">A</tspan><tspan x="586.80" fill="#e9303e" stroke="#e9303e">T</tspan><tspan x="592.81" fill="#2fbf9c" stroke="#2fbf9c">L</tspan><tspan x="598.83" fill="#e9303e" stroke="#e9303e">G</tspan><tspan x="604.84" fill="#e9303e" stroke="#e9303e">C</tspan><tspan x="610.86" fill="#2a2a2a" stroke="#2a2a2a">T</tspan><tspan x="616.87" fill="#2fbf9c" stroke="#2fbf9c">G</tspan><tspan x="622.89" fill="#2fbf9c" stroke="#2fbf9c">G</tspan><tspan x="628.91" fill="#e9303e" stroke="#e9303e">R</tspan><tspan x="634.92" fill="#e9303e" stroke="#e9303e">R</tspan><tspan x="640.94" fill="#2a2a2a" stroke="#2a2a2a">C</tspan><tspan x="646.95" fill="#2a2a2a" stroke="#2a2a2a">H</tspan><tspan x="652.97" fill="#2a2a2a" stroke="#2a2a2a">V</tspan><tspan x="658.98" fill="#e9303e" stroke="#e9303e">T</tspan><tspan x="665.00" fill="#2fbf9c" stroke="#2fbf9c">F</tspan><tspan x="671.02" fill="#e9303e" stroke="#e9303e">S</tspan><tspan x="677.03" fill="#e9303e" stroke="#e9303e">A</tspan><tspan x="683.05" fill="#2fbf9c" stroke="#2fbf9c">G</tspan><tspan x="689.06" fill="#2a2a2a" stroke="#2a2a2a">T</tspan><tspan x="695.08" fill="#2a2a2a" stroke="#2a2a2a">F</tspan><tspan x="701.09" fill="#2a2a2a" stroke="#2a2a2a">K</tspan><tspan x="707.11" fill="#2a2a2a" stroke="#2a2a2a">L</tspan><tspan x="713.12" fill="#e9303e" stroke="#e9303e">P</tspan><tspan x="719.14" fill="#2fbf9c" stroke="#2fbf9c">R</tspan></text>
<text x="468.90" y="243.80" font-size="6.4" fill="#2e2e2e" stroke="#2e2e2e" stroke-width="0.14">170-221</text>
<text transform="scale(0.64,1)" y="253.2" font-size="6.95" stroke-width="0.28" text-anchor="middle"><tspan x="412.34" fill="#e9303e" stroke="#e9303e">W</tspan><tspan x="418.36" fill="#e9303e" stroke="#e9303e">P</tspan><tspan x="424.37" fill="#e9303e" stroke="#e9303e">M</tspan><tspan x="430.39" fill="#e9303e" stroke="#e9303e">G</tspan><tspan x="436.41" fill="#e9303e" stroke="#e9303e">Y</tspan><tspan x="442.42" fill="#2fbf9c" stroke="#2fbf9c">R</tspan><tspan x="448.44" fill="#2fbf9c" stroke="#2fbf9c">T</tspan><tspan x="454.45" fill="#2a2a2a" stroke="#2a2a2a">A</tspan><tspan x="460.47" fill="#2a2a2a" stroke="#2a2a2a">T</tspan><tspan x="466.48" fill="#2fbf9c" stroke="#2fbf9c">L</tspan><tspan x="472.50" fill="#2a2a2a" stroke="#2a2a2a">R</tspan><tspan x="478.52" fill="#2a2a2a" stroke="#2a2a2a">T</tspan><tspan x="484.53" fill="#2a2a2a" stroke="#2a2a2a">L</tspan><tspan x="490.55" fill="#2a2a2a" stroke="#2a2a2a">T</tspan><tspan x="496.56" fill="#2a2a2a" stroke="#2a2a2a">P</tspan><tspan x="502.58" fill="#2a2a2a" stroke="#2a2a2a">V</tspan><tspan x="508.59" fill="#2a2a2a" stroke="#2a2a2a">P</tspan><tspan x="514.61" fill="#2a2a2a" stroke="#2a2a2a">N</tspan><tspan x="520.62" fill="#2a2a2a" stroke="#2a2a2a">R</tspan><tspan x="526.64" fill="#2a2a2a" stroke="#2a2a2a">V</tspan><tspan x="532.66" fill="#2a2a2a" stroke="#2a2a2a">G</tspan><tspan x="538.67" fill="#2a2a2a" stroke="#2a2a2a">A</tspan><tspan x="544.69" fill="#2a2a2a" stroke="#2a2a2a">D</tspan><tspan x="550.70" fill="#2a2a2a" stroke="#2a2a2a">S</tspan><tspan x="556.72" fill="#2a2a2a" stroke="#2a2a2a">I</tspan><tspan x="562.73" fill="#2a2a2a" stroke="#2a2a2a">M</tspan><tspan x="568.75" fill="#2fbf9c" stroke="#2fbf9c">L</tspan><tspan x="574.77" fill="#2fbf9c" stroke="#2fbf9c">T</tspan><tspan x="580.78" fill="#e9303e" stroke="#e9303e">A</tspan><tspan x="586.80" fill="#e9303e" stroke="#e9303e">T</tspan><tspan x="592.81" fill="#2a2a2a" stroke="#2a2a2a">F</tspan><tspan x="598.83" fill="#e9303e" stroke="#e9303e">G</tspan><tspan x="604.84" fill="#e9303e" stroke="#e9303e">C</tspan><tspan x="610.86" fill="#2a2a2a" stroke="#2a2a2a">Q</tspan><tspan x="616.87" fill="#2a2a2a" stroke="#2a2a2a">N</tspan><tspan x="622.89" fill="#2a2a2a" stroke="#2a2a2a">A</tspan><tspan x="628.91" fill="#2a2a2a" stroke="#2a2a2a">A</tspan><tspan x="634.92" fill="#e9303e" stroke="#e9303e">R</tspan><tspan x="640.94" fill="#2a2a2a" stroke="#2a2a2a">T</tspan><tspan x="646.95" fill="#2a2a2a" stroke="#2a2a2a">L</tspan><tspan x="652.97" fill="#2a2a2a" stroke="#2a2a2a">N</tspan><tspan x="658.98" fill="#e9303e" stroke="#e9303e">T</tspan><tspan x="665.00" fill="#2fbf9c" stroke="#2fbf9c">F</tspan><tspan x="671.02" fill="#e9303e" stroke="#e9303e">S</tspan><tspan x="677.03" fill="#e9303e" stroke="#e9303e">A</tspan><tspan x="683.05" fill="#2a2a2a" stroke="#2a2a2a">T</tspan><tspan x="689.06" fill="#2a2a2a" stroke="#2a2a2a">V</tspan><tspan x="695.08" fill="#2a2a2a" stroke="#2a2a2a">W</tspan><tspan x="701.09" fill="#2a2a2a" stroke="#2a2a2a">T</tspan><tspan x="707.11" fill="#e9303e" stroke="#e9303e">P</tspan><tspan x="713.12" fill="#e9303e" stroke="#e9303e">P</tspan><tspan x="719.14" fill="#2a2a2a" stroke="#2a2a2a">H</tspan></text>
<text x="468.90" y="253.20" font-size="6.4" fill="#2e2e2e" stroke="#2e2e2e" stroke-width="0.14">180-231</text>
<text transform="scale(0.64,1)" y="262.5" font-size="6.95" stroke-width="0.28" text-anchor="middle"><tspan x="412.34" fill="#e9303e" stroke="#e9303e">W</tspan><tspan x="418.36" fill="#2a2a2a" stroke="#2a2a2a">R</tspan><tspan x="424.37" fill="#e9303e" stroke="#e9303e">M</tspan><tspan x="430.39" fill="#e9303e" stroke="#e9303e">G</tspan><tspan x="436.41" fill="#e9303e" stroke="#e9303e">Y</tspan><tspan x="442.42" fill="#2fbf9c" stroke="#2fbf9c">R</tspan><tspan x="448.44" fill="#2fbf9c" stroke="#2fbf9c">T</tspan><tspan x="454.45" fill="#2a2a2a" stroke="#2a2a2a">H</tspan><tspan x="460.47" fill="#2a2a2a" stroke="#2a2a2a">N</tspan><tspan x="466.48" fill="#2a2a2a" stroke="#2a2a2a">L</tspan><tspan x="472.50" fill="#2a2a2a" stroke="#2a2a2a">K</tspan><tspan x="478.52" fill="#2a2a2a" stroke="#2a2a2a">V</tspan><tspan x="484.53" fill="#2a2a2a" stroke="#2a2a2a">N</tspan><tspan x="490.55" fill="#2fbf9c" stroke="#2fbf9c">S</tspan><tspan x="496.56" fill="#2a2a2a" stroke="#2a2a2a">F</tspan><tspan x="502.58" fill="#2a2a2a" stroke="#2a2a2a">E</tspan><tspan x="508.59" fill="#2a2a2a" stroke="#2a2a2a">S</tspan><tspan x="514.61" fill="#2a2a2a" stroke="#2a2a2a">G</tspan><tspan x="520.62" fill="#2a2a2a" stroke="#2a2a2a">G</tspan><tspan x="526.64" fill="#2a2a2a" stroke="#2a2a2a">D</tspan><tspan x="532.66" fill="#2a2a2a" stroke="#2a2a2a">N</tspan><tspan x="538.67" fill="#2a2a2a" stroke="#2a2a2a">V</tspan><tspan x="544.69" fill="#2a2a2a" stroke="#2a2a2a">H</tspan><tspan x="550.70" fill="#2a2a2a" stroke="#2a2a2a">P</tspan><tspan x="556.72" fill="#2fbf9c" stroke="#2fbf9c">V</tspan><tspan x="562.73" fill="#2fbf9c" stroke="#2fbf9c">L</tspan><tspan x="568.75" fill="#2a2a2a" stroke="#2a2a2a">V</tspan><tspan x="574.77" fill="#2fbf9c" stroke="#2fbf9c">T</tspan><tspan x="580.78" fill="#e9303e" stroke="#e9303e">A</tspan><tspan x="586.80" fill="#e9303e" stroke="#e9303e">T</tspan><tspan x="592.81" fill="#2fbf9c" stroke="#2fbf9c">L</tspan><tspan x="598.83" fill="#e9303e" stroke="#e9303e">G</tspan><tspan x="604.84" fill="#e9303e" stroke="#e9303e">C</tspan><tspan x="610.86" fill="#2a2a2a" stroke="#2a2a2a">D</tspan><tspan x="616.87" fill="#2a2a2a" stroke="#2a2a2a">E</tspan><tspan x="622.89" fill="#2a2a2a" stroke="#2a2a2a">G</tspan><tspan x="628.91" fill="#2fbf9c" stroke="#2fbf9c">T</tspan><tspan x="634.92" fill="#e9303e" stroke="#e9303e">R</tspan><tspan x="640.94" fill="#2a2a2a" stroke="#2a2a2a">H</tspan><tspan x="646.95" fill="#2a2a2a" stroke="#2a2a2a">A</tspan><tspan x="652.97" fill="#2a2a2a" stroke="#2a2a2a">T</tspan><tspan x="658.98" fill="#e9303e" stroke="#e9303e">T</tspan><tspan x="665.00" fill="#2a2a2a" stroke="#2a2a2a">Y</tspan><tspan x="671.02" fill="#e9303e" stroke="#e9303e">S</tspan><tspan x="677.03" fill="#e9303e" stroke="#e9303e">A</tspan><tspan x="683.05" fill="#2fbf9c" stroke="#2fbf9c">G</tspan><tspan x="689.06" fill="#2a2a2a" stroke="#2a2a2a">I</tspan><tspan x="695.08" fill="#2a2a2a" stroke="#2a2a2a">V</tspan><tspan x="701.09" fill="#2a2a2a" stroke="#2a2a2a">Q</tspan><tspan x="707.11" fill="#2a2a2a" stroke="#2a2a2a">I</tspan><tspan x="713.12" fill="#e9303e" stroke="#e9303e">P</tspan><tspan x="719.14" fill="#2fbf9c" stroke="#2fbf9c">R</tspan></text>
<text x="468.90" y="262.50" font-size="6.4" fill="#2e2e2e" stroke="#2e2e2e" stroke-width="0.14">176-227</text>
<line x1="374.00" y1="264.80" x2="389.40" y2="264.80" stroke="#f9b52a" stroke-width="1.4"/>
<line x1="327.90" y1="264.80" x2="362.50" y2="264.80" stroke="#1c75bc" stroke-width="1.4"/>
<line x1="331.70" y1="268.10" x2="365.40" y2="268.10" stroke="#1c75bc" stroke-width="1.4"/>
<line x1="347.10" y1="272.10" x2="380.80" y2="272.10" stroke="#1c75bc" stroke-width="1.4"/>
<text x="227.90" y="280.60" font-size="6.8" fill="#2e2e2e" stroke="#2e2e2e" stroke-width="0.14">Convergent</text>
<text transform="scale(0.6,1)" y="281.5" font-size="8.0" fill="#2a2a2a" stroke="#2a2a2a" stroke-width="0.3" text-anchor="middle"><tspan x="561.75">N</tspan><tspan x="568.17">K</tspan><tspan x="574.58">I</tspan><tspan x="581.00">Y</tspan><tspan x="587.42">L</tspan><tspan x="606.67">M</tspan><tspan x="613.08">I</tspan></text>
<text transform="scale(0.6,1)" y="290.7" font-size="8.0" fill="#2a2a2a" stroke="#2a2a2a" stroke-width="0.3" text-anchor="middle"><tspan x="561.75">G</tspan><tspan x="574.58">F</tspan><tspan x="606.67">L</tspan></text>
<line x1="396.20" y1="277.90" x2="407.00" y2="277.90" stroke="#f9b52a" stroke-width="1.4"/>
<text x="411.00" y="279.90" font-size="6.75" fill="#2e2e2e" stroke="#2e2e2e" stroke-width="0.14">Critical residues for RBP/J binding</text>
<line x1="396.20" y1="289.40" x2="407.00" y2="289.40" stroke="#1c75bc" stroke-width="1.4"/>
<text x="411.00" y="291.40" font-size="6.9" fill="#2e2e2e" stroke="#2e2e2e" stroke-width="0.14">Predicted antigenic peptides</text>
<text x="7.60" y="319.90" font-size="12" fill="#111" stroke="#111" stroke-width="0.35" font-weight="bold">E</text>
<text x="13.80" y="384.50" font-size="6.4" fill="#2e2e2e" stroke="#2e2e2e" stroke-width="0.14" text-anchor="middle" transform="rotate(-90 13.8 384.5)" textLength="101.5" lengthAdjust="spacingAndGlyphs">Convergent SNVs in the EBNA3B CHD</text>
<line x1="48.20" y1="329.80" x2="48.20" y2="440.20" stroke="#222" stroke-width="0.9"/>
<line x1="47.80" y1="439.90" x2="247.00" y2="439.90" stroke="#222" stroke-width="1.2"/>
<line x1="46.00" y1="341.20" x2="48.20" y2="341.20" stroke="#222" stroke-width="0.7"/>
<line x1="46.00" y1="351.30" x2="48.20" y2="351.30" stroke="#222" stroke-width="0.7"/>
<line x1="46.00" y1="361.00" x2="48.20" y2="361.00" stroke="#222" stroke-width="0.7"/>
<line x1="46.00" y1="371.10" x2="48.20" y2="371.10" stroke="#222" stroke-width="0.7"/>
<line x1="46.00" y1="380.90" x2="48.20" y2="380.90" stroke="#222" stroke-width="0.7"/>
<line x1="46.00" y1="391.00" x2="48.20" y2="391.00" stroke="#222" stroke-width="0.7"/>
<line x1="46.00" y1="400.70" x2="48.20" y2="400.70" stroke="#222" stroke-width="0.7"/>
<line x1="46.00" y1="410.60" x2="48.20" y2="410.60" stroke="#222" stroke-width="0.7"/>
<line x1="46.00" y1="420.20" x2="48.20" y2="420.20" stroke="#222" stroke-width="0.7"/>
<line x1="46.00" y1="430.10" x2="48.20" y2="430.10" stroke="#222" stroke-width="0.7"/>
<text x="42.00" y="348.25" font-size="5.8" fill="#2e2e2e" stroke="#2e2e2e" stroke-width="0.14" text-anchor="end">p.D195N</text>
<text x="42.00" y="358.15" font-size="5.8" fill="#2e2e2e" stroke="#2e2e2e" stroke-width="0.14" text-anchor="end">p.D195G</text>
<text x="42.00" y="368.05" font-size="5.8" fill="#2e2e2e" stroke="#2e2e2e" stroke-width="0.14" text-anchor="end">p.N196K</text>
<text x="42.00" y="378.00" font-size="5.8" fill="#2e2e2e" stroke="#2e2e2e" stroke-width="0.14" text-anchor="end">p.V197F</text>
<text x="42.00" y="387.95" font-size="5.8" fill="#2e2e2e" stroke="#2e2e2e" stroke-width="0.14" text-anchor="end">p.V197I</text>
<text x="42.00" y="397.85" font-size="5.8" fill="#2e2e2e" stroke="#2e2e2e" stroke-width="0.14" text-anchor="end">p.H198Y</text>
<text x="42.00" y="407.65" font-size="5.8" fill="#2e2e2e" stroke="#2e2e2e" stroke-width="0.14" text-anchor="end">p.P199L</text>
<text x="42.00" y="417.40" font-size="5.8" fill="#2e2e2e" stroke="#2e2e2e" stroke-width="0.14" text-anchor="end">p.V202L</text>
<text x="42.00" y="427.15" font-size="5.8" fill="#2e2e2e" stroke="#2e2e2e" stroke-width="0.14" text-anchor="end">p.V202M</text>
<text x="42.00" y="436.90" font-size="5.8" fill="#2e2e2e" stroke="#2e2e2e" stroke-width="0.14" text-anchor="end">p.T203I</text>
<rect x="48.80" y="341.70" width="3.80" height="9.10" fill="#3cb44b" stroke="#2b8f3d" stroke-width="0.5"/>
<rect x="53.20" y="351.80" width="4.60" height="8.70" fill="#3cb44b" stroke="#2b8f3d" stroke-width="0.5"/>
<rect x="58.20" y="361.50" width="0.80" height="9.10" fill="#3cb44b" stroke="#2b8f3d" stroke-width="0.5"/>
<rect x="59.40" y="371.60" width="2.50" height="8.80" fill="#3cb44b" stroke="#2b8f3d" stroke-width="0.5"/>
<rect x="62.30" y="381.40" width="2.50" height="9.10" fill="#3cb44b" stroke="#2b8f3d" stroke-width="0.5"/>
<rect x="65.40" y="391.50" width="1.50" height="8.70" fill="#3cb44b" stroke="#2b8f3d" stroke-width="0.5"/>
<rect x="67.30" y="401.20" width="18.50" height="8.90" fill="#3cb44b" stroke="#2b8f3d" stroke-width="0.5"/>
<rect x="86.20" y="411.10" width="1.40" height="8.60" fill="#3cb44b" stroke="#2b8f3d" stroke-width="0.5"/>
<rect x="88.00" y="420.70" width="7.70" height="8.90" fill="#3cb44b" stroke="#2b8f3d" stroke-width="0.5"/>
<rect x="96.10" y="430.60" width="1.10" height="8.60" fill="#3cb44b" stroke="#2b8f3d" stroke-width="0.5"/>
<line x1="51.06" y1="336.80" x2="244.64" y2="336.80" stroke="#222" stroke-width="0.8"/>
<path d="M48.9,336.8 L52.5,335.3 L52.5,338.3 Z" fill="#222"/>
<path d="M246.8,336.8 L243.20000000000002,335.3 L243.20000000000002,338.3 Z" fill="#222"/>
<text x="123.70" y="331.60" font-size="8.1" fill="#2e2e2e" stroke="#2e2e2e" stroke-width="0.14">366 samples</text>
<line x1="50.36" y1="444.30" x2="94.64" y2="444.30" stroke="#222" stroke-width="0.8"/>
<path d="M48.2,444.3 L51.800000000000004,442.8 L51.800000000000004,445.8 Z" fill="#222"/>
<path d="M96.8,444.3 L93.2,442.8 L93.2,445.8 Z" fill="#222"/>
<text x="52.40" y="454.30" font-size="6.45" fill="#2e2e2e" stroke="#2e2e2e" stroke-width="0.14">91 samples (24.8%)</text>
<text x="273.50" y="319.70" font-size="12" fill="#111" stroke="#111" stroke-width="0.35" font-weight="bold">F</text>
<text x="279.80" y="384.60" font-size="6.2" fill="#2e2e2e" stroke="#2e2e2e" stroke-width="0.14" text-anchor="middle" transform="rotate(-90 279.8 384.6)" textLength="29.8" lengthAdjust="spacingAndGlyphs">Probability</text>
<line x1="301.30" y1="326.20" x2="301.30" y2="443.40" stroke="#222" stroke-width="1.3"/>
<line x1="299.00" y1="442.80" x2="301.30" y2="442.80" stroke="#222" stroke-width="0.7"/>
<text x="296.20" y="444.60" font-size="5.2" fill="#2e2e2e" stroke="#2e2e2e" stroke-width="0.07" text-anchor="end">0</text>
<line x1="299.00" y1="404.90" x2="301.30" y2="404.90" stroke="#222" stroke-width="0.7"/>
<text x="296.20" y="406.70" font-size="5.2" fill="#2e2e2e" stroke="#2e2e2e" stroke-width="0.07" text-anchor="end">0.06</text>
<line x1="299.00" y1="367.00" x2="301.30" y2="367.00" stroke="#222" stroke-width="0.7"/>
<text x="296.20" y="368.80" font-size="5.2" fill="#2e2e2e" stroke="#2e2e2e" stroke-width="0.07" text-anchor="end">0.12</text>
<line x1="299.00" y1="329.10" x2="301.30" y2="329.10" stroke="#222" stroke-width="0.7"/>
<text x="296.20" y="330.90" font-size="5.2" fill="#2e2e2e" stroke="#2e2e2e" stroke-width="0.07" text-anchor="end">0.18</text>
<path d="M323.21,442.8 L323.21,442.04 L333.55,442.04 L333.55,439.07 L343.89,439.07 L343.89,433.58 L354.23,433.58 L354.23,423.53 L364.57,423.53 L364.57,407.81 L374.91,407.81 L374.91,386.58 L385.25,386.58 L385.25,364.47 L395.59,364.47 L395.59,348.05 L405.93,348.05 L405.93,343.31 L416.27,343.31 L416.27,354.05 L426.61,354.05 L426.61,376.54 L436.95,376.54 L436.95,402.06 L447.29,402.06 L447.29,422.78 L457.63,422.78 L457.63,435.35 L467.97,435.35 L467.97,441.03 L478.31,441.03 L478.31,442.61 L488.65,442.61 L488.65,442.8 Z" fill="#f7931e"/>
<line x1="300.40" y1="442.90" x2="500.60" y2="442.90" stroke="#222" stroke-width="1.4"/>
<line x1="307.70" y1="442.80" x2="307.70" y2="444.80" stroke="#222" stroke-width="0.7"/>
<text x="307.70" y="454.20" font-size="5.3" fill="#2e2e2e" stroke="#2e2e2e" stroke-width="0.07" text-anchor="middle">73</text>
<line x1="318.04" y1="442.80" x2="318.04" y2="444.80" stroke="#222" stroke-width="0.7"/>
<text x="318.04" y="454.20" font-size="5.3" fill="#2e2e2e" stroke="#2e2e2e" stroke-width="0.07" text-anchor="middle">74</text>
<line x1="328.38" y1="442.80" x2="328.38" y2="444.80" stroke="#222" stroke-width="0.7"/>
<text x="328.38" y="454.20" font-size="5.3" fill="#2e2e2e" stroke="#2e2e2e" stroke-width="0.07" text-anchor="middle">75</text>
<line x1="338.72" y1="442.80" x2="338.72" y2="444.80" stroke="#222" stroke-width="0.7"/>
<text x="338.72" y="454.20" font-size="5.3" fill="#2e2e2e" stroke="#2e2e2e" stroke-width="0.07" text-anchor="middle">76</text>
<line x1="349.06" y1="442.80" x2="349.06" y2="444.80" stroke="#222" stroke-width="0.7"/>
<text x="349.06" y="454.20" font-size="5.3" fill="#2e2e2e" stroke="#2e2e2e" stroke-width="0.07" text-anchor="middle">77</text>
<line x1="359.40" y1="442.80" x2="359.40" y2="444.80" stroke="#222" stroke-width="0.7"/>
<text x="359.40" y="454.20" font-size="5.3" fill="#2e2e2e" stroke="#2e2e2e" stroke-width="0.07" text-anchor="middle">78</text>
<line x1="369.74" y1="442.80" x2="369.74" y2="444.80" stroke="#222" stroke-width="0.7"/>
<text x="369.74" y="454.20" font-size="5.3" fill="#2e2e2e" stroke="#2e2e2e" stroke-width="0.07" text-anchor="middle">79</text>
<line x1="380.08" y1="442.80" x2="380.08" y2="444.80" stroke="#222" stroke-width="0.7"/>
<text x="380.08" y="454.20" font-size="5.3" fill="#2e2e2e" stroke="#2e2e2e" stroke-width="0.07" text-anchor="middle">80</text>
<line x1="390.42" y1="442.80" x2="390.42" y2="444.80" stroke="#222" stroke-width="0.7"/>
<text x="390.42" y="454.20" font-size="5.3" fill="#2e2e2e" stroke="#2e2e2e" stroke-width="0.07" text-anchor="middle">81</text>
<line x1="400.76" y1="442.80" x2="400.76" y2="444.80" stroke="#222" stroke-width="0.7"/>
<text x="400.76" y="454.20" font-size="5.3" fill="#2e2e2e" stroke="#2e2e2e" stroke-width="0.07" text-anchor="middle">82</text>
<line x1="411.10" y1="442.80" x2="411.10" y2="444.80" stroke="#222" stroke-width="0.7"/>
<text x="411.10" y="454.20" font-size="5.3" fill="#2e2e2e" stroke="#2e2e2e" stroke-width="0.07" text-anchor="middle">83</text>
<line x1="421.44" y1="442.80" x2="421.44" y2="444.80" stroke="#222" stroke-width="0.7"/>
<text x="421.44" y="454.20" font-size="5.3" fill="#2e2e2e" stroke="#2e2e2e" stroke-width="0.07" text-anchor="middle">84</text>
<line x1="431.78" y1="442.80" x2="431.78" y2="444.80" stroke="#222" stroke-width="0.7"/>
<text x="431.78" y="454.20" font-size="5.3" fill="#2e2e2e" stroke="#2e2e2e" stroke-width="0.07" text-anchor="middle">85</text>
<line x1="442.12" y1="442.80" x2="442.12" y2="444.80" stroke="#222" stroke-width="0.7"/>
<text x="442.12" y="454.20" font-size="5.3" fill="#2e2e2e" stroke="#2e2e2e" stroke-width="0.07" text-anchor="middle">86</text>
<line x1="452.46" y1="442.80" x2="452.46" y2="444.80" stroke="#222" stroke-width="0.7"/>
<text x="452.46" y="454.20" font-size="5.3" fill="#2e2e2e" stroke="#2e2e2e" stroke-width="0.07" text-anchor="middle">87</text>
<line x1="462.80" y1="442.80" x2="462.80" y2="444.80" stroke="#222" stroke-width="0.7"/>
<text x="462.80" y="454.20" font-size="5.3" fill="#2e2e2e" stroke="#2e2e2e" stroke-width="0.07" text-anchor="middle">88</text>
<line x1="473.14" y1="442.80" x2="473.14" y2="444.80" stroke="#222" stroke-width="0.7"/>
<text x="473.14" y="454.20" font-size="5.3" fill="#2e2e2e" stroke="#2e2e2e" stroke-width="0.07" text-anchor="middle">89</text>
<line x1="483.48" y1="442.80" x2="483.48" y2="444.80" stroke="#222" stroke-width="0.7"/>
<text x="483.48" y="454.20" font-size="5.3" fill="#2e2e2e" stroke="#2e2e2e" stroke-width="0.07" text-anchor="middle">90</text>
<line x1="493.82" y1="442.80" x2="493.82" y2="444.80" stroke="#222" stroke-width="0.7"/>
<text x="493.82" y="454.20" font-size="5.3" fill="#2e2e2e" stroke="#2e2e2e" stroke-width="0.07" text-anchor="middle">91</text>
<text x="401.00" y="465.00" font-size="6.5" fill="#2e2e2e" stroke="#2e2e2e" stroke-width="0.14" text-anchor="middle" textLength="103" lengthAdjust="spacingAndGlyphs">No. of samples having 1 or more SNVs</text>
<line x1="492.60" y1="347.00" x2="492.60" y2="436.00" stroke="#c4195c" stroke-width="0.9"/>
<path d="M492.6,441 L490.9,435.8 L494.3,435.8 Z" fill="#c4195c"/>
<text x="464.20" y="334.30" font-size="5.55" fill="#2e2e2e" stroke="#2e2e2e" stroke-width="0.14" text-anchor="middle">Observed: 91 samples</text>
<text x="464.60" y="341.00" font-size="5.55" fill="#2e2e2e" stroke="#2e2e2e" stroke-width="0.14" text-anchor="middle">P = 4.92 × 10<tspan font-size="3.4" dy="-2">-3</tspan></text>
<text x="7.00" y="492.60" font-size="12" fill="#111" stroke="#111" stroke-width="0.35" font-weight="bold">G</text>
<line x1="25.10" y1="500.00" x2="25.10" y2="527.80" stroke="#222" stroke-width="0.8"/>
<line x1="23.40" y1="527.60" x2="25.10" y2="527.60" stroke="#222" stroke-width="0.6"/>
<text x="22.40" y="529.30" font-size="4.7" fill="#2e2e2e" text-anchor="end">0</text>
<line x1="23.40" y1="514.55" x2="25.10" y2="514.55" stroke="#222" stroke-width="0.6"/>
<text x="22.40" y="516.25" font-size="4.7" fill="#2e2e2e" text-anchor="end">3</text>
<line x1="23.40" y1="501.50" x2="25.10" y2="501.50" stroke="#222" stroke-width="0.6"/>
<text x="22.40" y="503.20" font-size="4.7" fill="#2e2e2e" text-anchor="end">6</text>
<rect x="31.10" y="523.25" width="5.80" height="4.35" fill="#1aa7df"/>
<rect x="54.20" y="514.55" width="5.80" height="13.05" fill="#1aa7df"/>
<rect x="60.00" y="501.50" width="11.00" height="26.10" fill="#1aa7df"/>
<rect x="77.30" y="523.25" width="5.40" height="4.35" fill="#1aa7df"/>
<rect x="88.80" y="510.20" width="5.80" height="17.40" fill="#1aa7df"/>
<rect x="94.60" y="523.25" width="11.20" height="4.35" fill="#1aa7df"/>
<rect x="158.00" y="523.25" width="17.00" height="4.35" fill="#1aa7df"/>
<rect x="204.00" y="523.25" width="4.80" height="4.35" fill="#1aa7df"/>
<rect x="215.20" y="501.50" width="5.70" height="26.10" fill="#1aa7df"/>
<rect x="220.90" y="510.20" width="5.30" height="17.40" fill="#1aa7df"/>
<rect x="232.50" y="523.25" width="5.30" height="4.35" fill="#1aa7df"/>
<line x1="25.10" y1="527.70" x2="253.70" y2="527.70" stroke="#555" stroke-width="0.8"/>
<rect x="25.20" y="531.20" width="224.60" height="9.30" fill="#fff" stroke="#333" stroke-width="0.9"/>
<rect x="38.80" y="531.20" width="13.10" height="9.30" fill="#d4373d" stroke="#3a2222" stroke-width="0.7"/>
<rect x="55.00" y="531.20" width="13.30" height="9.30" fill="#d4373d" stroke="#3a2222" stroke-width="0.7"/>
<rect x="69.20" y="531.20" width="12.60" height="9.30" fill="#d4373d" stroke="#3a2222" stroke-width="0.7"/>
<rect x="86.90" y="531.20" width="13.00" height="9.30" fill="#d4373d" stroke="#3a2222" stroke-width="0.7"/>
<rect x="105.10" y="531.20" width="12.90" height="9.30" fill="#d4373d" stroke="#3a2222" stroke-width="0.7"/>
<rect x="120.70" y="531.20" width="12.10" height="9.30" fill="#d4373d" stroke="#3a2222" stroke-width="0.7"/>
<rect x="137.10" y="531.20" width="23.30" height="9.30" fill="#8a5ca8" stroke="#3a2a3a" stroke-width="0.7"/>
<rect x="184.60" y="531.20" width="32.10" height="9.30" fill="#f9c212" stroke="#6a4a10" stroke-width="0.7"/>
<rect x="227.30" y="531.20" width="22.30" height="9.30" fill="#f7a257" stroke="#6a4a20" stroke-width="0.7"/>
<text x="7.30" y="537.80" font-size="5.3" fill="#2e2e2e" stroke="#2e2e2e" stroke-width="0.07">LMP1</text>
<text x="13.80" y="548.20" font-size="5.3" fill="#2e2e2e" stroke="#2e2e2e" stroke-width="0.07">AA 1</text>
<text x="45.30" y="548.20" font-size="5.3" fill="#2e2e2e" stroke="#2e2e2e" stroke-width="0.07" text-anchor="middle">TM 1</text>
<text x="61.50" y="548.20" font-size="5.3" fill="#2e2e2e" stroke="#2e2e2e" stroke-width="0.07" text-anchor="middle">2</text>
<text x="75.40" y="548.20" font-size="5.3" fill="#2e2e2e" stroke="#2e2e2e" stroke-width="0.07" text-anchor="middle">3</text>
<text x="93.40" y="548.20" font-size="5.3" fill="#2e2e2e" stroke="#2e2e2e" stroke-width="0.07" text-anchor="middle">4</text>
<text x="111.40" y="548.20" font-size="5.3" fill="#2e2e2e" stroke="#2e2e2e" stroke-width="0.07" text-anchor="middle">5</text>
<text x="126.60" y="548.20" font-size="5.3" fill="#2e2e2e" stroke="#2e2e2e" stroke-width="0.07" text-anchor="middle">6</text>
<text x="148.60" y="548.20" font-size="5.3" fill="#2e2e2e" stroke="#2e2e2e" stroke-width="0.07" text-anchor="middle">CTAR1</text>
<text x="200.60" y="548.20" font-size="5.3" fill="#2e2e2e" stroke="#2e2e2e" stroke-width="0.07" text-anchor="middle">CTAR3</text>
<text x="234.50" y="548.20" font-size="5.3" fill="#2e2e2e" stroke="#2e2e2e" stroke-width="0.07" text-anchor="middle">CTAR2</text>
<text x="246.40" y="548.20" font-size="5.3" fill="#2e2e2e" stroke="#2e2e2e" stroke-width="0.07">386</text>
<text x="272.30" y="492.60" font-size="12" fill="#111" stroke="#111" stroke-width="0.35" font-weight="bold">H</text>
<text x="300.00" y="501.40" font-size="6.0" fill="#2e2e2e" stroke="#2e2e2e" stroke-width="0.14">LMP1</text>
<text transform="scale(0.6,1)" y="502.9" font-size="10.4" font-weight="bold" text-anchor="middle"><tspan x="550.00" fill="#e3262e">L</tspan><tspan x="557.90" fill="#e3262e">L</tspan><tspan x="565.80" fill="#e3262e">V</tspan><tspan x="573.70" fill="#e3262e">L</tspan><tspan x="581.60" fill="#e3262e">Y</tspan><tspan x="589.50" fill="#2a2a2a">S</tspan><tspan x="597.40" fill="#e3262e">F</tspan><tspan x="605.30" fill="#e3262e">A</tspan><tspan x="613.20" fill="#e3262e">L</tspan><tspan x="621.10" fill="#2a2a2a">M</tspan><tspan x="629.00" fill="#e3262e">L</tspan><tspan x="636.90" fill="#e3262e">I</tspan><tspan x="644.80" fill="#e3262e">I</tspan><tspan x="652.70" fill="#e3262e">I</tspan><tspan x="660.60" fill="#e3262e">I</tspan><tspan x="668.50" fill="#e3262e">L</tspan><tspan x="676.40" fill="#e3262e">I</tspan><tspan x="684.30" fill="#e3262e">I</tspan><tspan x="692.20" fill="#e3262e">F</tspan><tspan x="700.10" fill="#e3262e">I</tspan><tspan x="708.00" fill="#e3262e">F</tspan></text>
<line x1="337.10" y1="505.70" x2="379.60" y2="505.70" stroke="#1e8fd0" stroke-width="1.9"/>
<line x1="341.90" y1="509.50" x2="384.40" y2="509.50" stroke="#1e8fd0" stroke-width="1.9"/>
<line x1="346.60" y1="513.40" x2="389.20" y2="513.40" stroke="#1e8fd0" stroke-width="1.9"/>
<line x1="351.40" y1="517.20" x2="394.00" y2="517.20" stroke="#1e8fd0" stroke-width="1.9"/>
<line x1="360.90" y1="521.10" x2="403.70" y2="521.10" stroke="#1e8fd0" stroke-width="1.9"/>
<text x="438.30" y="502.90" font-size="6.2" fill="#2e2e2e" stroke="#2e2e2e" stroke-width="0.14">52-72</text>
<text x="282.30" y="531.30" font-size="6.7" fill="#2e2e2e" stroke="#2e2e2e" stroke-width="0.14">Convergent</text>
<text transform="scale(0.6,1)" y="533.0" font-size="10.4" font-weight="bold" text-anchor="middle"><tspan x="557.90" fill="#e3262e">F</tspan><tspan x="581.60" fill="#2a2a2a">S</tspan><tspan x="613.20" fill="#e3262e">I</tspan><tspan x="621.10" fill="#e3262e">V</tspan><tspan x="629.00" fill="#e3262e">I</tspan><tspan x="636.90" fill="#2a2a2a">T</tspan><tspan x="652.70" fill="#e3262e">L</tspan><tspan x="676.40" fill="#e3262e">L</tspan></text>
<text transform="scale(0.6,1)" y="544.4" font-size="10.4" font-weight="bold" text-anchor="middle"><tspan x="621.10" fill="#e3262e">I</tspan><tspan x="636.90" fill="#e3262e">V</tspan></text>
<text transform="scale(0.6,1)" y="555.6" font-size="10.4" font-weight="bold" text-anchor="middle"><tspan x="636.90" fill="#e3262e">L</tspan></text>
<line x1="402.90" y1="553.30" x2="413.70" y2="553.30" stroke="#1e8fd0" stroke-width="1.9"/>
<text x="417.70" y="555.40" font-size="6.85" fill="#2e2e2e" stroke="#2e2e2e" stroke-width="0.14">Predicted antigenic peptides</text>
<text x="6.60" y="575.70" font-size="12" fill="#111" stroke="#111" stroke-width="0.35" font-weight="bold">I</text>
<line x1="20.40" y1="584.00" x2="20.40" y2="615.90" stroke="#222" stroke-width="0.8"/>
<line x1="18.90" y1="615.70" x2="20.40" y2="615.70" stroke="#222" stroke-width="0.6"/>
<text x="16.60" y="617.30" font-size="4.5" fill="#2e2e2e" text-anchor="end">0</text>
<line x1="18.90" y1="605.70" x2="20.40" y2="605.70" stroke="#222" stroke-width="0.6"/>
<text x="16.60" y="607.30" font-size="4.5" fill="#2e2e2e" text-anchor="end">4</text>
<line x1="18.90" y1="595.70" x2="20.40" y2="595.70" stroke="#222" stroke-width="0.6"/>
<text x="16.60" y="597.30" font-size="4.5" fill="#2e2e2e" text-anchor="end">8</text>
<line x1="18.90" y1="585.70" x2="20.40" y2="585.70" stroke="#222" stroke-width="0.6"/>
<text x="16.60" y="587.30" font-size="4.5" fill="#2e2e2e" text-anchor="end">12</text>
<rect x="20.60" y="613.20" width="11.40" height="2.50" fill="#1ea8dc"/>
<rect x="32.00" y="605.70" width="6.10" height="10.00" fill="#1ea8dc"/>
<rect x="44.60" y="613.20" width="12.10" height="2.50" fill="#1ea8dc"/>
<rect x="56.70" y="588.20" width="5.20" height="27.50" fill="#1ea8dc"/>
<rect x="61.90" y="605.70" width="6.10" height="10.00" fill="#1ea8dc"/>
<rect x="74.40" y="613.20" width="5.60" height="2.50" fill="#1ea8dc"/>
<rect x="92.50" y="613.20" width="5.80" height="2.50" fill="#1ea8dc"/>
<rect x="98.30" y="608.20" width="6.70" height="7.50" fill="#1ea8dc"/>
<rect x="105.00" y="600.70" width="5.40" height="15.00" fill="#1ea8dc"/>
<rect x="110.40" y="613.20" width="6.10" height="2.50" fill="#1ea8dc"/>
<rect x="122.30" y="610.70" width="6.20" height="5.00" fill="#1ea8dc"/>
<rect x="134.80" y="610.70" width="6.40" height="5.00" fill="#1ea8dc"/>
<rect x="141.20" y="613.20" width="5.70" height="2.50" fill="#1ea8dc"/>
<rect x="146.90" y="608.20" width="6.10" height="7.50" fill="#1ea8dc"/>
<rect x="153.00" y="590.70" width="5.80" height="25.00" fill="#1ea8dc"/>
<rect x="158.80" y="610.70" width="5.80" height="5.00" fill="#1ea8dc"/>
<line x1="20.40" y1="615.70" x2="262.70" y2="615.70" stroke="#333" stroke-width="0.9"/>
<line x1="20.60" y1="621.80" x2="261.50" y2="621.80" stroke="#666" stroke-width="0.8"/>
<line x1="20.60" y1="621.80" x2="84.00" y2="621.80" stroke="#1b4f8d" stroke-width="1.6"/>
<rect x="29.20" y="618.70" width="10.60" height="6.60" fill="#1b4f8d"/>
<rect x="49.40" y="618.70" width="31.80" height="6.60" fill="#1b4f8d"/>
<rect x="81.00" y="619.60" width="5.20" height="4.80" fill="#1b4f8d"/>
<path d="M86.0,622 L86.0,633.2 L79.2,633.2" fill="none" stroke="#1b1b1b" stroke-width="0.9"/>
<path d="M76.2,633.2 L79.8,631.7 L79.8,634.7 Z" fill="#1b1b1b"/>
<rect x="146.20" y="618.80" width="36.90" height="6.30" fill="#39b54a"/>
<path d="M146.2,622 L146.2,633.2 L139.3,633.2" fill="none" stroke="#39b54a" stroke-width="0.8"/>
<path d="M136.3,633.2 L139.9,631.7 L139.9,634.7 Z" fill="#39b54a"/>
<path d="M239.2,621.6 L239.2,632.2 L232.2,632.2" fill="none" stroke="#f7a23b" stroke-width="0.8"/>
<path d="M229.2,632.2 L232.8,630.7 L232.8,633.7 Z" fill="#f7a23b"/>
<text x="34.50" y="633.10" font-size="6.5" fill="#2e2e2e" stroke="#2e2e2e" stroke-width="0.14" text-anchor="middle">2</text>
<text x="58.90" y="633.10" font-size="6.5" fill="#2e2e2e" stroke="#2e2e2e" stroke-width="0.14" text-anchor="middle">1</text>
<text x="37.90" y="641.30" font-size="7.0" fill="#2e2e2e" stroke="#2e2e2e" stroke-width="0.14" font-style="italic" textLength="16.3" lengthAdjust="spacingAndGlyphs">LMP1</text>
<text x="73.50" y="640.40" font-size="6.4" fill="#2e2e2e" stroke="#2e2e2e" stroke-width="0.14">canonical</text>
<text x="86.90" y="645.60" font-size="4.6" fill="#2e2e2e" text-anchor="middle">169016</text>
<text x="135.40" y="639.60" font-size="6.6" fill="#39b54a" stroke="#39b54a" stroke-width="0.14">pED-L1</text>
<text x="146.20" y="645.60" font-size="4.6" fill="#2e2e2e" text-anchor="middle">169546</text>
<text x="227.70" y="639.80" font-size="6.6" fill="#f7a23b" stroke="#f7a23b" stroke-width="0.14">pL1-TR</text>
<text x="239.00" y="645.60" font-size="4.6" fill="#2e2e2e" text-anchor="middle">170116</text>
<text x="277.80" y="575.70" font-size="12" fill="#111" stroke="#111" stroke-width="0.35" font-weight="bold">J</text>
<line x1="314.80" y1="578.50" x2="314.80" y2="608.30" stroke="#222" stroke-width="0.8"/>
<line x1="313.30" y1="608.10" x2="314.80" y2="608.10" stroke="#222" stroke-width="0.6"/>
<text x="311.80" y="609.70" font-size="4.5" fill="#2e2e2e" text-anchor="end">0</text>
<line x1="313.30" y1="596.30" x2="314.80" y2="596.30" stroke="#222" stroke-width="0.6"/>
<text x="311.80" y="597.90" font-size="4.5" fill="#2e2e2e" text-anchor="end">2</text>
<line x1="313.30" y1="584.50" x2="314.80" y2="584.50" stroke="#222" stroke-width="0.6"/>
<text x="311.80" y="586.10" font-size="4.5" fill="#2e2e2e" text-anchor="end">4</text>
<line x1="314.80" y1="608.10" x2="503.90" y2="608.10" stroke="#333" stroke-width="0.9" stroke-dasharray="0.9 0.6"/>
<line x1="314.20" y1="613.00" x2="314.20" y2="638.70" stroke="#222" stroke-width="0.8"/>
<line x1="312.70" y1="638.50" x2="314.20" y2="638.50" stroke="#222" stroke-width="0.6"/>
<text x="311.20" y="640.10" font-size="4.5" fill="#2e2e2e" text-anchor="end">0</text>
<line x1="312.70" y1="626.70" x2="314.20" y2="626.70" stroke="#222" stroke-width="0.6"/>
<text x="311.20" y="628.30" font-size="4.5" fill="#2e2e2e" text-anchor="end">2</text>
<line x1="312.70" y1="614.90" x2="314.20" y2="614.90" stroke="#222" stroke-width="0.6"/>
<text x="311.20" y="616.50" font-size="4.5" fill="#2e2e2e" text-anchor="end">4</text>
<line x1="314.20" y1="638.50" x2="503.90" y2="638.50" stroke="#333" stroke-width="0.9" stroke-dasharray="0.9 0.6"/>
<text x="293.80" y="595.60" font-size="4.5" fill="#2e2e2e" text-anchor="middle">Cluster 1</text>
<text x="294.20" y="601.40" font-size="4.5" fill="#2e2e2e" text-anchor="middle">(Japan)</text>
<text x="293.80" y="625.00" font-size="4.5" fill="#2e2e2e" text-anchor="middle">Cluster 2</text>
<text x="294.20" y="630.90" font-size="4.5" fill="#2e2e2e" text-anchor="middle">(China)</text>
<rect x="441.10" y="590.40" width="1.60" height="17.70" fill="#1ea8df"/>
<rect x="449.00" y="602.20" width="1.40" height="5.90" fill="#1ea8df"/>
<rect x="402.30" y="632.60" width="1.60" height="5.90" fill="#ee1c25"/>
<rect x="403.90" y="620.80" width="1.60" height="17.70" fill="#ee1c25"/>
<rect x="314.30" y="641.40" width="188.60" height="9.90" fill="#fff" stroke="#333" stroke-width="0.8"/>
<rect x="332.20" y="641.40" width="43.30" height="9.90" fill="#f6b90f" stroke="#4a3a10" stroke-width="0.7"/>
<path d="M418,641.4 L434.3,641.4 L434.3,646.3 L453.3,646.3 L453.3,651.3 L418,651.3 Z" fill="#7d5aa6" stroke="#3a2a4a" stroke-width="0.7"/>
<path d="M434.3,641.4 L474.5,641.4 L474.5,651.3 L453.3,651.3 L453.3,646.3 L434.3,646.3 Z" fill="#f05b5b" stroke="#4a2020" stroke-width="0.7"/>
<rect x="480.80" y="641.40" width="21.80" height="9.90" fill="#6dd0e6" stroke="#2a4a5a" stroke-width="0.7"/>
<text x="290.80" y="648.80" font-size="4.6" fill="#2e2e2e">EBNA3A</text>
<text x="307.00" y="657.00" font-size="4.5" fill="#2e2e2e">AA1</text>
<text x="335.80" y="657.00" font-size="4.58" fill="#2e2e2e">Central homology</text>
<text x="421.00" y="657.00" font-size="4.6" fill="#2e2e2e">Repress</text>
<text x="456.00" y="657.00" font-size="4.6" fill="#2e2e2e">Activate</text>
<text x="484.00" y="657.00" font-size="4.5" fill="#2e2e2e">CtBP</text>
<text x="497.70" y="657.00" font-size="4.5" fill="#2e2e2e">944</text>
</svg>
<div class="frame"></div>
</body></html>
